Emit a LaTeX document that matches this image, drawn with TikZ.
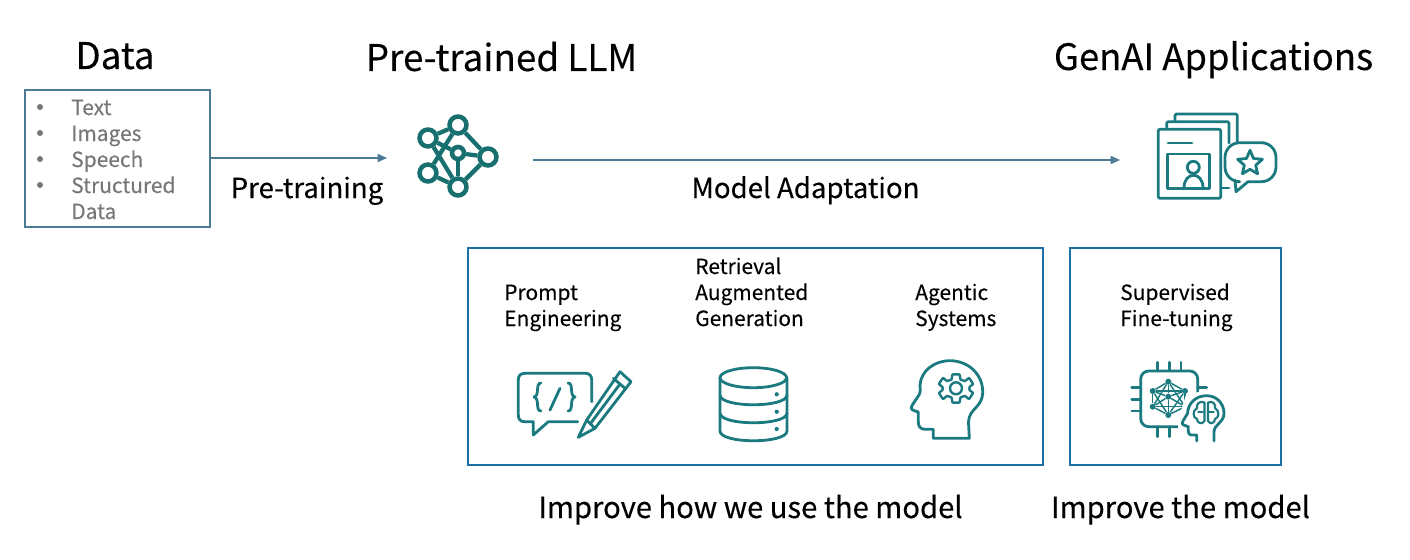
\documentclass[tikz,border=0pt]{standalone}
\usepackage{fontspec}
\setmainfont{Noto Sans CJK SC}
\newfontfamily\medfont[FakeBold=0.18]{Noto Sans CJK SC}
\newfontfamily\semifont[FakeBold=0.3]{Noto Sans CJK SC}
\usetikzlibrary{arrows.meta}
\definecolor{teal1}{HTML}{17706F}
\definecolor{teal2}{HTML}{1B7A80}
\definecolor{arrowblue}{HTML}{4A7A94}
\definecolor{boxblue}{HTML}{1C6EA4}
\definecolor{greytext}{HTML}{777777}
\tikzset{
  titletext/.style={font=\medfont\fontsize{27.6}{30}\selectfont,text=black,inner sep=0pt,anchor=base},
  labeltext/.style={font=\medfont\fontsize{20.7}{24}\selectfont,text=black,inner sep=0pt,anchor=base},
  captiontext/.style={font=\semifont\fontsize{21.9}{24}\selectfont,text=black,inner sep=0pt,anchor=base},
  smalltext/.style={font=\medfont\fontsize{15.7}{19.5}\selectfont,text=black,inner sep=0pt,anchor=base west},
  greyitem/.style={font=\medfont\fontsize{15.7}{19.5}\selectfont,text=greytext,inner sep=0pt,anchor=base west},
  greybullet/.style={circle,fill=greytext,inner sep=0pt,minimum size=4.5pt},
  databox/.style={draw=arrowblue,line width=1.3pt},
  groupbox/.style={draw=boxblue,line width=1.3pt},
  flow/.style={draw=arrowblue,line width=1.2pt,-{Triangle[length=7pt,width=6pt]}},
  netnode/.style={circle,draw=teal1,line width=3.4pt,inner sep=0pt},
  netedge/.style={draw=teal1,line width=3.2pt},
  ico/.style={draw=teal2,line width=2.1pt,line join=round,line cap=round},
  chipnode/.style={circle,fill=teal2,inner sep=0pt,minimum size=4.5pt},
  chipedge/.style={draw=teal2,line width=1.1pt},
}
\begin{document}
\begin{tikzpicture}[x=0.75pt,y=-0.75pt]
\useasboundingbox (0,0) rectangle (1410,560);
% titles
\node[titletext] (tdata) at (115,69) {Data};
\node[titletext] (tllm) at (501.5,71) {Pre-trained LLM};
\node[titletext,font=\medfont\fontsize{27.3}{30}\selectfont] (tgen) at (1213.5,70) {GenAI Applications};
% data box
\node[databox,minimum width=139pt,minimum height=102.5pt,inner sep=0pt] (dbox) at (117.3,158.5) {};
\foreach \yy/\tt/\bb in {107/Text/1,133/Images/2,159/Speech/3,185/Structured/4}{
  \node[greybullet] (b\bb) at (40,\yy) {};
  \node[greyitem] (i\bb) at (71,\yy+8) {\tt};
}
\node[greyitem] (i5) at (71,219) {Data};
% arrows
\coordinate (a1) at (387,158);
\coordinate (a2s) at (533,160);
\coordinate (a2e) at (1120,160);
\draw[flow] (dbox.east |- a1) -- (a1);
\draw[flow] (a2s) -- (a2e);
\node[labeltext] (lpre) at (307,198) {Pre-training};
\node[labeltext] (ladapt) at (805.5,198) {Model Adaptation};
% network icon
\foreach \n/\x/\y/\s in {n1/428/138/12.7,n2/458/125/12.7,n3/458/153/9,n4/488/157/12.7,n5/428/173/12.7,n6/458/187/12.7}{
  \node[netnode,minimum size=\s pt] (\n) at (\x,\y) {};
}
\foreach \a/\b in {n1/n2,n1/n6,n1/n3,n5/n2,n2/n4,n3/n4,n3/n6,n4/n6,n5/n6}{
  \draw[netedge] (\a) -- (\b);
}
% app icon
\draw[ico,rounded corners=1pt] (1166.7,129) -- (1166.7,121.7) -- (1229,121.7) -- (1229,143);
\draw[ico] (1221,188) -- (1229,188);
\draw[ico,rounded corners=1pt] (1175,121) -- (1175,114) -- (1237.3,114) -- (1237.3,143);
\draw[ico,rounded corners=1pt] (1158.3,129.3) rectangle (1220.7,198.3);
\draw[ico] (1168,143) -- (1192,143);
\draw[ico] (1167.7,154) rectangle (1209.3,188.3);
\draw[ico] (1193.3,167.3) circle (6);
\draw[ico] (1184,188) .. controls (1184,171) and (1203,171) .. (1203,188);
\draw[ico,rounded corners=11pt] (1235,181.7) -- (1225,181.7) -- (1225,142.7) -- (1276,142.7) -- (1276,181.7) -- (1248,181.7);
\draw[ico,line join=round] (1235,180) -- (1236,191.7) -- (1248,181.7);
\draw[ico] (1250,150.3) -- (1253.5,158.5) -- (1262.4,159.3) -- (1255.7,165.2) -- (1257.6,173.8) -- (1250,169.3) -- (1242.4,173.8) -- (1244.3,165.2) -- (1237.6,159.3) -- (1246.5,158.5) -- cycle;
% prompt icon
\draw[ico] (591.7,401.7) -- (591.7,380) .. controls (591.7,375) and (589,373.3) .. (585,373.3) -- (525,373.3) .. controls (520,373.3) and (518.3,376) .. (518.3,380) -- (518.3,415) .. controls (518.3,420) and (521,421.7) .. (525,421.7) -- (533.3,421.7) -- (533.3,435) -- (548.3,421.7) -- (577.7,421.7);
\draw[ico] (560,388.3) -- (550,410);
\draw[ico] (541,383) .. controls (535,383) and (540,396) .. (534,397) .. controls (540,398) and (535,411) .. (541,411);
\draw[ico] (568,383) .. controls (574,383) and (569,396) .. (575,397) .. controls (569,398) and (574,411) .. (568,411);
\draw[ico] (578.3,437.3) -- (586.7,420) -- (620,371.7) -- (631,381.7) -- (595,428.3) -- cycle;
\draw[ico] (613.3,378.3) -- (625,388.3);
\draw[ico] (586.7,420) -- (595,428.3);
\draw[ico] (590.5,423.5) -- (620,384);
% database icon
\draw[ico] (753.3,377.7) ellipse (33.3 and 10);
\draw[ico] (720,377.7) -- (720,431) .. controls (720,444) and (787,444) .. (787,431) -- (787,377.7);
\draw[ico] (720,395) .. controls (720,408) and (787,408) .. (787,395);
\draw[ico] (720,413) .. controls (720,426) and (787,426) .. (787,413);
\foreach \yy/\dd in {394.3/1,411.7/2,429/3}{
  \node[circle,fill=teal2,inner sep=0pt,minimum size=3.2pt] (dot\dd) at (776.7,\yy) {};
}
% head with gear
\draw[ico] (933.3,438.3) -- (933.3,429.3) -- (925,429.3) .. controls (920,429.3) and (918.3,426) .. (918.3,421.7) -- (918.3,412) -- (912.5,410) .. controls (910.5,409) and (911,407) .. (912,405.5) -- (919,395) .. controls (921,391) and (920,389) .. (920,385) .. controls (921,371) and (934,360.7) .. (950,360.7) .. controls (968,360.7) and (982.7,374) .. (982.7,391.7) .. controls (982.7,408) and (969,408) .. (968.5,422) -- (969.3,438.3) -- cycle;
\draw[ico,line width=1.8pt] (956,388.3) circle (6);
\draw[ico,line width=1.8pt] plot[smooth cycle,tension=.15] coordinates {
 (952.5,374.5) (959.5,374.5) (960.5,379.5) (965,381) (969,378) (973,384) (969.5,387) (969.5,390) (973,393) (969,399) (965,396) (960.5,397.5) (959.5,402.5) (952.5,402.5) (951.5,397.5) (947,396) (943,399) (939,393) (942.5,390) (942.5,387) (939,384) (943,378) (947,381) (951.5,379.5)};
% chip icon
\foreach \xx/\kk in {1157.7/1,1169.3/2,1181/3}{\draw[ico] (\xx,362.3) -- (\xx,371);}
\foreach \xx in {1157.7,1169.3}{\draw[ico] (\xx,426.7) -- (\xx,436.7);}
\foreach \yy in {387.7,399.3,411}{\draw[ico] (1131.7,\yy) -- (1140.7,\yy);}
\draw[ico] (1197.7,387.7) -- (1206.7,387.7);
\draw[ico,rounded corners=6pt] (1140.7,371) rectangle (1197.7,426.7);
\foreach \n/\x/\y in {c0/1168.3/396.7,c1/1168.3/381.7,c2/1152.7/391,c3/1185/391,c4/1152.7/406.7,c5/1185/406.7,c6/1168.3/415}{
  \node[chipnode] (\n) at (\x,\y) {};
}
\foreach \a/\b in {c1/c2,c1/c3,c2/c4,c3/c5,c4/c6,c5/c6,c0/c1,c0/c2,c0/c3,c0/c4,c0/c5,c0/c6,c1/c4,c1/c5,c2/c6,c3/c6,c2/c3,c4/c5}{
  \draw[chipedge] (\a) -- (\b);
}
\path[fill=white] (1178,428) -- (1178,420) -- (1186,395) -- (1207,390) -- (1226,400) -- (1228,440) -- (1196.7,441) -- cycle;
\draw[ico] (1196.7,441) -- (1196.7,435) -- (1191,435) .. controls (1189,435) and (1188.3,433) .. (1188.3,431) -- (1188.3,426.7) -- (1183.5,425) .. controls (1181.5,424) and (1182,423) .. (1183,421) -- (1187.5,413.5) .. controls (1188,403) and (1196,395.7) .. (1206.7,395.7) .. controls (1217,395.7) and (1224,404) .. (1224,413.3) .. controls (1224,423) and (1214,424) .. (1214,432) -- (1214,441);
\draw[ico,line width=1.6pt] (1204.5,402.5) .. controls (1199,400) and (1196,405) .. (1197,408) .. controls (1192,411) and (1193,418) .. (1197,419) .. controls (1197,423) and (1202,425) .. (1204.5,421) -- cycle;
\draw[ico,line width=1.6pt] (1208,402.5) .. controls (1213,400) and (1216,405) .. (1215,408) .. controls (1220,411) and (1219,418) .. (1215,419) .. controls (1215,423) and (1210,425) .. (1208,421) -- cycle;
\draw[ico,line width=1pt] (1198,412) -- (1203,412) (1209,412) -- (1214,412);
% group boxes
\node[groupbox,minimum width=431pt,minimum height=162.75pt,inner sep=0pt] (g1) at (755.5,356.5) {};
\node[groupbox,minimum width=158.25pt,minimum height=162.75pt,inner sep=0pt] (g2) at (1175.5,356.5) {};
\node[smalltext] (p1) at (504,300) {Prompt};
\node[smalltext] (p2) at (504,326) {Engineering};
\node[smalltext] (r1) at (695,274) {Retrieval};
\node[smalltext] (r2) at (695,300) {Augmented};
\node[smalltext] (r3) at (695,326) {Generation};
\node[smalltext] (s1) at (915,300) {Agentic};
\node[smalltext] (s2) at (915,326) {Systems};
\node[smalltext] (f1) at (1120,300) {Supervised};
\node[smalltext] (f2) at (1120,326) {Fine-tuning};
\node[captiontext] (c1t) at (750.5,518) {Improve how we use the model};
\node[captiontext] (c2t) at (1180.5,518) {Improve the model};
\end{tikzpicture}
\end{document}
